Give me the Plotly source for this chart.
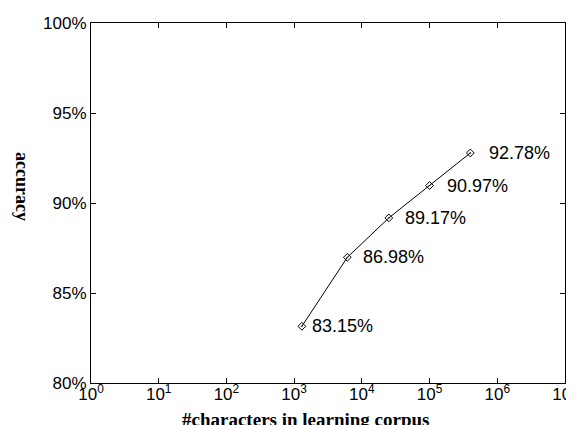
import math
import plotly.graph_objects as go

corpus_chars = [1300, 6100, 25000, 100000, 400000]
accuracy_pct = [83.15, 86.98, 89.17, 90.97, 92.78]
x_tickvals = [1, 10, 100, 1000, 10000, 100000, 1000000, 10000000]
x_ticktext = ["10<sup>%d</sup>" % i for i in range(8)]
y_tickvals = [80, 85, 90, 95, 100]
label_xshift = [8, 14, 14, 15, 17]

PCT = "&#37;"

fig = go.Figure()
fig.add_trace(go.Scatter(
    x=corpus_chars, y=accuracy_pct, mode="lines+markers",
    line=dict(color="black", width=1),
    marker=dict(symbol="diamond-open-dot", size=6, color="black", line=dict(width=1, color="black")),
    showlegend=False, hoverinfo="skip"))

for xv, yv, sh in zip(corpus_chars, accuracy_pct, label_xshift):
    fig.add_annotation(x=math.log10(xv), y=yv, xref="x", yref="y", text="%.2f" % yv + PCT,
                       showarrow=False, xanchor="left", yanchor="middle", xshift=sh,
                       font=dict(family="Arial, Liberation Sans", size=18, color="black"))

fig.add_annotation(x=(298 - 83) / 474, y=-0.1, xref="paper", yref="paper",
                   text="<b>#characters in learning corpus</b>", showarrow=False,
                   xanchor="center", yanchor="middle",
                   font=dict(family="Liberation Serif, Times New Roman", size=19, color="black"))
fig.add_annotation(x=(14 - 83) / 474, y=(375 - 178) / 360, xref="paper", yref="paper",
                   text="<b>accuracy</b>", showarrow=False, textangle=90,
                   xanchor="center", yanchor="middle",
                   font=dict(family="Liberation Serif, Times New Roman", size=18, color="black"))

axis_common = dict(showgrid=False, zeroline=False, showline=True, linecolor="black", linewidth=1,
                   mirror="allticks", ticks="inside", ticklen=5, tickcolor="black", tickwidth=1,
                   automargin=False,
                   tickfont=dict(family="Arial, Liberation Sans", size=17, color="black"))
fig.update_xaxes(type="log", range=[0, 7], tickvals=x_tickvals, ticktext=x_ticktext,
                 ticklabelstandoff=-4, **axis_common)
fig.update_yaxes(range=[80, 100], tickvals=y_tickvals,
                 ticktext=["%d" % v + PCT for v in y_tickvals], **axis_common)

fig.update_layout(width=574, height=425, margin=dict(l=83, r=17, t=15, b=50),
                  paper_bgcolor="white", plot_bgcolor="white")
fig.write_html("out.html")
